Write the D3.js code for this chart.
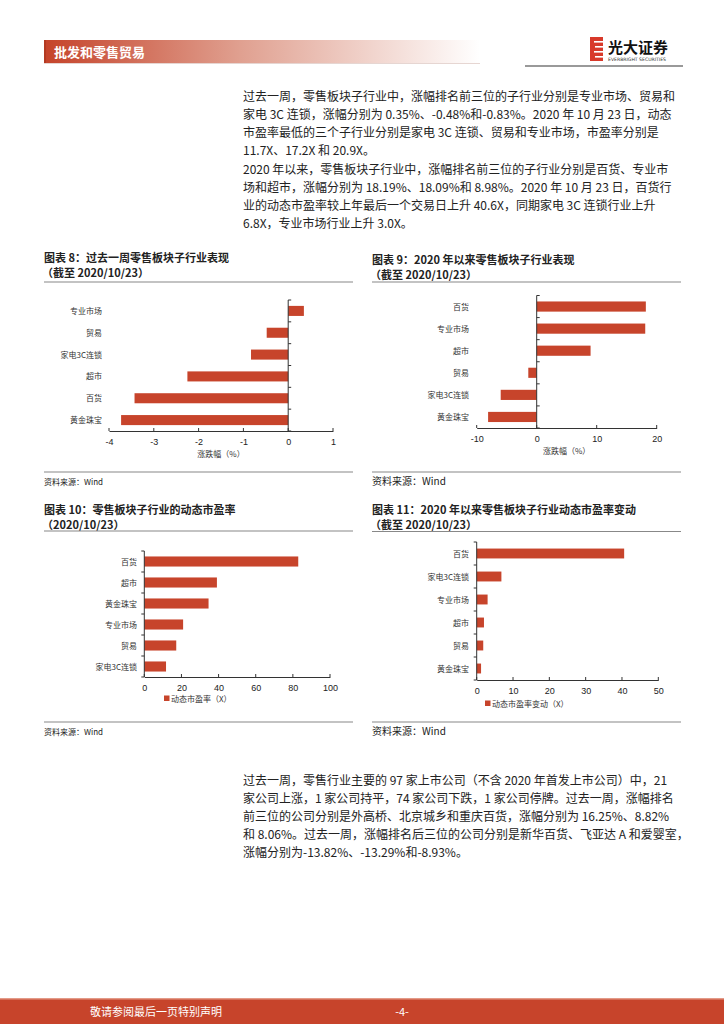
<!DOCTYPE html>
<html><head><meta charset="utf-8">
<script src="https://cdn.jsdelivr.net/npm/d3@7"></script>
<style>
html,body{margin:0;padding:0;background:#fff;}
svg{display:block;font-family:"Noto Sans CJK SC","Noto Sans",sans-serif;}
</style></head>
<body>
<svg id="page" width="724" height="1024"></svg>
<script>
// ---------- data ----------
const c8Cats = ['专业市场','贸易','家电3C连锁','超市','百货','黄金珠宝'];
const c8Vals = [0.35,-0.48,-0.83,-2.25,-3.43,-3.73];
const c8Ticks = [-4,-3,-2,-1,0,1];

const c9Cats = ['百货','专业市场','超市','贸易','家电3C连锁','黄金珠宝'];
const c9Vals = [18.19,18.09,8.98,-1.4,-6.0,-8.1];
const c9Ticks = [-10,0,10,20];

const c10Cats = ['百货','超市','黄金珠宝','专业市场','贸易','家电3C连锁'];
const c10Vals = [82.9,39.1,34.6,20.9,17.2,11.7];
const c10Ticks = [0,20,40,60,80,100];

const c11Cats = ['百货','家电3C连锁','专业市场','超市','贸易','黄金珠宝'];
const c11Vals = [40.6,6.8,3.0,2.0,1.8,1.2];
const c11Ticks = [0,10,20,30,40,50];

const para1 = [
 "过去一周，零售板块子行业中，涨幅排名前三位的子行业分别是专业市场、贸易和",
 "家电 3C 连锁，涨幅分别为 0.35%、-0.48%和-0.83%。2020 年 10 月 23 日，动态",
 "市盈率最低的三个子行业分别是家电 3C 连锁、贸易和专业市场，市盈率分别是",
 "11.7X、17.2X 和 20.9X。"];
const para2 = [
 "2020 年以来，零售板块子行业中，涨幅排名前三位的子行业分别是百货、专业市",
 "场和超市，涨幅分别为 18.19%、18.09%和 8.98%。2020 年 10 月 23 日，百货行",
 "业的动态市盈率较上年最后一个交易日上升 40.6X，同期家电 3C 连锁行业上升",
 "6.8X，专业市场行业上升 3.0X。"];
const para3 = [
 "过去一周，零售行业主要的 97 家上市公司（不含 2020 年首发上市公司）中，21",
 "家公司上涨，1 家公司持平，74 家公司下跌，1 家公司停牌。过去一周，涨幅排名",
 "前三位的公司分别是外高桥、北京城乡和重庆百货，涨幅分别为 16.25%、8.82%",
 "和 8.06%。过去一周，涨幅排名后三位的公司分别是新华百货、飞亚达 A 和爱婴室，",
 "涨幅分别为-13.82%、-13.29%和-8.93%。"];

const RED = '#c7442b';
const svg = d3.select('#page');

// ---------- header ----------
const defs = svg.append('defs');
const g1 = defs.append('linearGradient').attr('id','hdr').attr('x1','0').attr('x2','1');
g1.append('stop').attr('offset','0').attr('stop-color','#c5432a');
g1.append('stop').attr('offset','0.45').attr('stop-color','#e0a090');
g1.append('stop').attr('offset','1').attr('stop-color','#ffffff');
svg.append('rect').attr('x',44).attr('y',40).attr('width',436).attr('height',23).attr('fill','url(#hdr)');
svg.append('rect').attr('x',44).attr('y',40).attr('width',2).attr('height',23).attr('fill','#b33a22');
svg.append('line').attr('x1',44).attr('x2',480).attr('y1',63.5).attr('y2',63.5).attr('stroke','#e6d6d2').attr('stroke-width',1);
svg.append('text').attr('x',54).attr('y',57).attr('fill','#fff').attr('font-size',13).attr('font-weight','bold').text('批发和零售贸易');

// logo
const lg = svg.append('g');
lg.append('rect').attr('x',590).attr('y',37).attr('width',13).attr('height',24).attr('fill','#d8392a');
[41,46,51,56].forEach((y,i)=>{
  lg.append('rect').attr('x',594+ (i%2)*1).attr('y',y).attr('width',9).attr('height',1.6).attr('fill','#fff');
});
lg.append('text').attr('x',608).attr('y',53).attr('font-size',15).attr('font-weight','bold').attr('fill','#111').text('光大证券');
lg.append('text').attr('x',608).attr('y',60.5).attr('font-size',4.6).attr('fill','#333').attr('font-family','DejaVu Sans').text('EVERBRIGHT SECURITIES');
svg.append('line').attr('x1',525).attr('x2',683).attr('y1',66).attr('y2',66).attr('stroke','#777').attr('stroke-width',1.5);

// ---------- paragraphs ----------
function para(lines, y0){
  lines.forEach((t,i)=>{
    svg.append('text').attr('x',243).attr('y',y0+i*18).attr('font-size',12).attr('fill','#222').text(t);
  });
}
para(para1,101);
para(para2,174);
para(para3,785);

// ---------- chart helper ----------
function chart(o){
  const g = svg.append('g');
  // titles
  g.append('text').attr('x',o.tx).attr('y',o.ty).attr('font-size',11).attr('font-weight','bold').attr('fill','#222').text(o.title1);
  g.append('text').attr('x',o.tx-2).attr('y',o.ty+15).attr('font-size',11).attr('font-weight','bold').attr('fill','#222').text(o.title2);
  g.append('line').attr('x1',o.tx).attr('x2',o.tx+309).attr('y1',o.sep1).attr('y2',o.sep1).attr('stroke','#888').attr('stroke-width',1.2);
  g.append('line').attr('x1',o.tx).attr('x2',o.tx+309).attr('y1',o.sep2).attr('y2',o.sep2).attr('stroke','#888').attr('stroke-width',1.2);
  g.append('text').attr('x',o.tx).attr('y',o.sep2+13).attr('font-size',o.srcSize).attr('fill','#222').text('资料来源：Wind');

  const x = d3.scaleLinear().domain(o.domain).range(o.xr);
  const y = d3.scaleBand().domain(o.cats).range(o.yr).paddingInner(o.pad).paddingOuter(o.pad/2);
  const x0 = x(0);
  // bars
  g.selectAll('.bar').data(o.vals).enter().append('rect')
    .attr('x',(d)=>Math.min(x(d),x0))
    .attr('y',(d,i)=>y(o.cats[i]))
    .attr('width',d=>Math.abs(x(d)-x0))
    .attr('height',y.bandwidth())
    .attr('fill',RED);
  // category labels
  g.selectAll('.cl').data(o.cats).enter().append('text')
    .attr('x',o.labelX).attr('y',d=>y(d)+y.bandwidth()/2+3)
    .attr('text-anchor','end').attr('font-size',8).attr('fill','#333').text(d=>d);
  // vertical axis
  g.append('line').attr('x1',x0).attr('x2',x0).attr('y1',o.yr[0]).attr('y2',o.axisY).attr('stroke','#333').attr('stroke-width',1);
  const step = y.step();
  for(let i=0;i<=o.cats.length;i++){
    const yy = o.yr[0]+i*step;
    if(yy>o.axisY+0.5) continue;
    g.append('line').attr('x1',x0).attr('x2',x0+o.ytickDir*3).attr('y1',yy).attr('y2',yy).attr('stroke','#333').attr('stroke-width',1);
  }
  // x axis
  const xa = d3.axisBottom(x).tickValues(o.ticks).tickSize(0).tickPadding(8).tickFormat(d=>String(d));
  const ax = g.append('g').attr('transform',`translate(0,${o.axisY})`).call(xa);
  ax.select('.domain').attr('stroke','#333');
  ax.selectAll('text').attr('font-size',9).attr('fill','#222').attr('font-family','Liberation Sans, Arial, sans-serif');
  o.ticks.forEach(t=>{
    g.append('line').attr('x1',x(t)).attr('x2',x(t)).attr('y1',o.axisY).attr('y2',o.axisY-3).attr('stroke','#333');
  });
  if(o.axisTitle){
    g.append('text').attr('x',(o.xr[0]+o.xr[1])/2).attr('y',o.axisY+26).attr('text-anchor','middle').attr('font-size',8).attr('fill','#333').text(o.axisTitle);
  }
  if(o.legend){
    g.append('rect').attr('x',o.legX).attr('y',o.legY-3.5).attr('width',5.5).attr('height',5.5).attr('fill',RED);
    g.append('text').attr('x',o.legX+7).attr('y',o.legY+3).attr('font-size',8).attr('fill','#333').text(o.legend);
  }
}

chart({tx:44,ty:262,title1:'图表 8：过去一周零售板块子行业表现',title2:'（截至 2020/10/23）',
  sep1:282,sep2:472,srcSize:8,domain:[-4,1],xr:[109,333],cats:c8Cats,vals:c8Vals,ticks:c8Ticks,
  yr:[300,431],pad:0.54,axisY:431,labelX:102,ytickDir:1,axisTitle:'涨跌幅（%）'});

chart({tx:372,ty:264,title1:'图表 9：2020 年以来零售板块子行业表现',title2:'（截至 2020/10/23）',
  sep1:282,sep2:472,srcSize:10,domain:[-10,20],xr:[476.7,656.7],cats:c9Cats,vals:c9Vals,ticks:c9Ticks,
  yr:[295.5,428],pad:0.54,axisY:428,labelX:469,ytickDir:1,axisTitle:'涨跌幅（%）'});

chart({tx:44,ty:514,title1:'图表 10：零售板块子行业的动态市盈率',title2:'（2020/10/23）',
  sep1:531,sep2:722,srcSize:8,domain:[0,100],xr:[144.3,330],cats:c10Cats,vals:c10Vals,ticks:c10Ticks,
  yr:[551,677],pad:0.52,axisY:677,labelX:137,ytickDir:-1,legend:'动态市盈率（X）',legX:164,legY:699});

chart({tx:372,ty:514,title1:'图表 11：2020 年以来零售板块子行业动态市盈率变动',title2:'（截至 2020/10/23）',
  sep1:531.5,sep2:722,srcSize:10,domain:[0,50],xr:[476.7,658.3],cats:c11Cats,vals:c11Vals,ticks:c11Ticks,
  yr:[542,680],pad:0.57,axisY:680,labelX:469,ytickDir:-1,legend:'动态市盈率变动（X）',legX:485,legY:704});

// ---------- footer ----------
svg.append('rect').attr('x',0).attr('y',998).attr('width',724).attr('height',26).attr('fill',RED);
svg.append('rect').attr('x',0).attr('y',998).attr('width',724).attr('height',1.5).attr('fill','#e39a88');
svg.append('text').attr('x',90).attr('y',1016).attr('font-size',11).attr('fill','#fff').text('敬请参阅最后一页特别声明');
svg.append('text').attr('x',402).attr('y',1016).attr('text-anchor','middle').attr('font-size',11).attr('fill','#fff').text('-4-');
</script>
</body></html>
